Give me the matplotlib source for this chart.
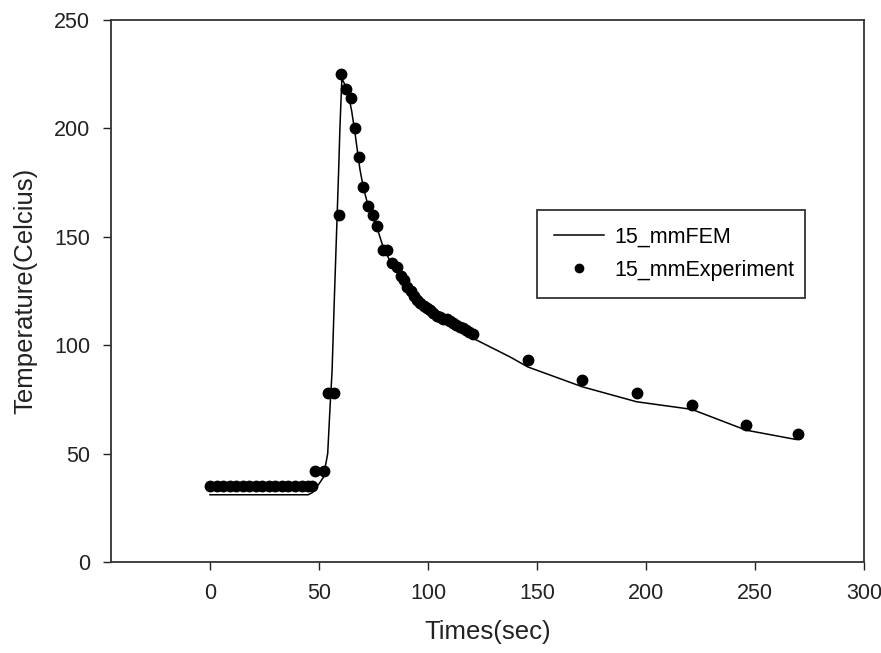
import matplotlib
matplotlib.use("Agg")
import matplotlib.pyplot as plt

plt.rcParams.update({
    "font.family": ["Liberation Sans", "DejaVu Sans"],
    "axes.linewidth": 1.3,
})

# FEM curve (time s, temperature C)
fem_t = [0, 20, 45, 47, 50, 52, 54, 55, 56, 57, 58, 59, 59.6, 60.5,
         63, 65, 66.5, 68.8, 70.3, 72.6, 75, 77, 79.5, 83, 86, 88,
         95, 101, 107, 113, 121, 137.6, 145.7, 170.8, 195.7, 221,
         245.9, 268.8]
fem_T = [31, 31, 31, 32, 36, 39, 50, 70, 88, 120, 150, 180, 200, 223,
         218, 208, 198, 181, 173, 164, 158, 153, 145, 138, 134, 129,
         118.5, 114, 110, 107, 103, 94.6, 90, 80.8, 73.9, 70.4,
         60.8, 56.5]

# experimental points
exp_t = [0, 3, 6, 9, 12, 15, 18, 21, 24, 27, 30, 33, 36, 39, 42, 45, 47,
         48, 52.5, 54, 57, 59, 60, 62.4, 64.7, 66.5, 68.3, 70.3, 72.6,
         74.9, 76.7, 79.5, 81, 83.3, 85.6,
         87.5, 89, 90.5, 92, 93.5, 95, 96.5, 98, 99.5, 101, 102.5, 104,
         105.5, 107, 108.5, 110, 111.5, 113, 114.5, 116, 117.5, 119, 120.5,
         145.7, 170.8, 195.7, 221, 245.9, 269.6]
exp_T = [35, 35, 35, 35, 35, 35, 35, 35, 35, 35, 35, 35, 35, 35, 35, 35, 35,
         42, 42, 78, 78, 160, 225, 218, 214, 200, 187, 173, 164,
         160, 155, 144, 144, 138, 136,
         132, 130, 127, 125, 122.5, 121, 119.5, 118, 117, 116, 115, 113.5,
         113, 112, 112, 111, 110, 109.5, 108.5, 108, 107, 106, 105,
         93, 84, 78, 72.5, 63, 59]

fig = plt.figure(figsize=(8.81, 6.53), dpi=100)
ax = fig.add_axes([0.126, 0.1394, 0.8547, 0.830])

ax.plot(fem_t, fem_T, "k-", lw=1.1, label="15_mmFEM")
ax.plot(exp_t, exp_T, "o", color="black", ms=7.5, mec="black",
        ls="none", label="15_mmExperiment")

ax.set_xlim(-45.4, 300)
ax.set_ylim(0, 250)
ax.set_xticks([0, 50, 100, 150, 200, 250, 300])
ax.set_yticks([0, 50, 100, 150, 200, 250])
ax.tick_params(direction="out", length=6, width=1.0, labelsize=15.5,
               pad=9, colors="#222222")
ax.set_xlabel("Times(sec)", fontsize=18.5, labelpad=12, color="#222222")
ax.set_ylabel("Temperature(Celcius)", fontsize=18.5, labelpad=12,
              color="#222222")
for s in ax.spines.values():
    s.set_color("#333333")

leg = ax.legend(loc="center left", bbox_to_anchor=(0.566, 0.493, 0.356, 0.151),
                mode="expand", fontsize=15.5, frameon=True, fancybox=False,
                edgecolor="#333333", framealpha=1, handlelength=2.3,
                handletextpad=0.5, labelspacing=0.55, borderpad=0.8,
                borderaxespad=0, markerscale=0.8)
leg.get_frame().set_linewidth(1.3)

fig.savefig("out.png", dpi=100)
